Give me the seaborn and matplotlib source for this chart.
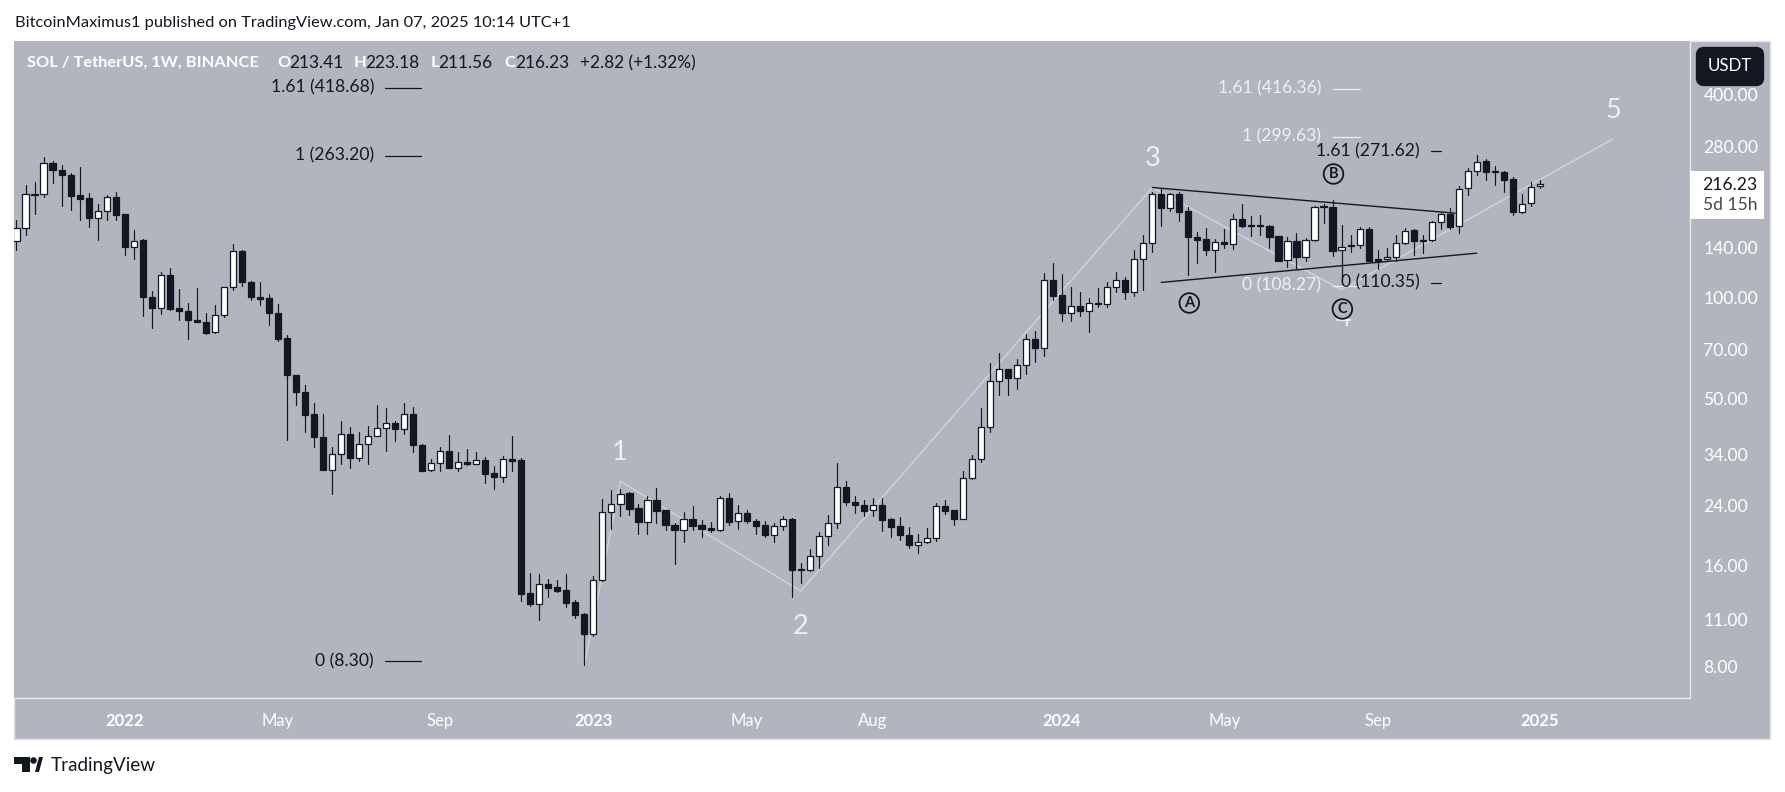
import matplotlib
matplotlib.use("Agg")
import matplotlib.pyplot as plt
from matplotlib.patches import Circle, FancyBboxPatch, Polygon, Rectangle
import pandas as pd
import seaborn as sns

# ── Weekly SOL/USDT candles ───────────────────────────────────────────
opens = [147, 160, 202, 202, 250, 238, 231, 201, 197, 172, 180, 198, 177, 140.5, 148, 100, 93, 116, 92.9, 90.9,
         85.5, 84.6, 78.7, 88.3, 107, 137.2, 111, 100, 99.5, 89.9, 75.6, 58.7, 52.3, 44.9, 38.4, 30.7, 34.2, 39.2, 33.3, 36.7,
         38.7, 40.9, 42.3, 40.6, 45, 36.4, 30.6, 32.2, 34.9, 31.1, 32.4, 32, 32.8, 30.1, 29.3, 33, 32.9, 13.2, 12.3, 14.1,
         13.75, 13.5, 12.45, 11.45, 10, 14.5, 23, 24.3, 26.2, 23.6, 21.5, 24.9, 23.3, 21, 20.3, 21.9, 21, 20.6, 20.3, 25.4,
         21.6, 22.8, 21.7, 21, 19.6, 20.85, 21.9, 15.5, 15.5, 17, 19.5, 21.4, 27.3, 24.7, 24.2, 23.3, 24.2, 21.9, 20.85, 19.7,
         18.3, 18.8, 19.3, 23.9, 23.3, 22, 29, 33, 41.1, 56.4, 61.2, 57.4, 62.9, 75, 70.4, 112.3, 101.4, 89.5, 94.1, 90.7,
         95.7, 95.2, 107.1, 112.3, 103.3, 129.7, 144.7, 202, 183.4, 202, 180.4, 150.7, 148.7, 137.6, 146, 143.6, 170.5, 163.6, 162.9, 162.9,
         151.8, 128.8, 146.7, 131.5, 147.7, 185.5, 185.4, 137.9, 141.7, 142.4, 159.6, 129.7, 129.7, 131.5, 144.7, 158, 147.7, 147.7, 167, 176.8,
         162.5, 210.7, 237.7, 253.3, 236.4, 236, 224, 179.6, 190.1, 213.41]
highs = [169, 215, 220, 260, 254, 247, 233, 243, 204, 189, 201, 205, 177, 158, 149, 104, 119, 122.3, 105.9, 96.2,
         106.6, 90, 94.9, 107, 144, 138, 112, 110.9, 102.3, 95.6, 77.3, 58.9, 55, 48.5, 44.9, 36, 43, 41.2, 39.7, 41.4,
         47.8, 47, 42.8, 48.5, 47.2, 36.7, 33.1, 35.9, 39, 34.8, 35.4, 34.6, 33.6, 31.6, 33.7, 38.8, 33.3, 15.2, 15.1, 14.6,
         14.45, 15.1, 12.6, 11.5, 14.9, 25.1, 26.7, 26.9, 26.3, 24.3, 25.7, 27.2, 23.4, 21.3, 23, 23.9, 21.75, 21.45, 25.6, 26.2,
         24.1, 23.3, 21.9, 21.6, 21.4, 22.35, 22.15, 16.25, 17.9, 20, 22.5, 32.2, 28.4, 25.7, 24.9, 25.3, 25.4, 22.1, 22.25, 20.7,
         19.75, 20.6, 24.5, 24.9, 23.4, 30.4, 34, 46.8, 63.7, 68.2, 61.3, 65.5, 77.9, 79.3, 117.9, 126.2, 117, 107.3, 103.5, 99.3,
         106.4, 110.8, 118.9, 115, 138.2, 153.1, 204.9, 210.7, 204.4, 204.9, 185, 156, 160, 149, 159.5, 176.4, 189.3, 174.4, 175.6, 163.6,
         152, 150.7, 154.9, 149.7, 186, 189.5, 194, 164, 152.5, 162.1, 162, 138.2, 139.8, 153.1, 161, 159.9, 152.5, 168.6, 178.4, 183.8,
         214, 241.5, 264, 256.8, 246, 236.4, 228.2, 202.6, 219.5, 223.18]
lows = [138, 153, 177, 199, 219, 187, 182, 170, 162, 148, 169, 170, 133.6, 130, 88, 81, 89.3, 91.8, 85.7, 75.2,
        84.2, 77.9, 78.5, 87.1, 105.2, 108.3, 98.2, 94.9, 82.4, 73.9, 37.7, 47.9, 39.9, 35.9, 30.7, 26, 31.9, 31, 32.6, 31.9,
        38.6, 34.9, 37.5, 39.3, 34.8, 30.4, 30.4, 30.5, 31, 30.4, 31.7, 31.9, 28, 26.9, 28.2, 30.4, 12.5, 12.1, 11, 12.9,
        13.3, 12, 11.15, 8.07, 9.85, 14.4, 20.5, 22.4, 22.5, 19.8, 19.8, 21.4, 20.4, 16.1, 18.75, 20.3, 19.4, 20, 20.2, 21.1,
        20.5, 21.3, 19.8, 19.4, 18.7, 20.4, 12.9, 14.15, 15.4, 15.7, 18.4, 20.65, 24.1, 22.9, 22.4, 22.35, 20.15, 19.45, 19, 17.95,
        17.4, 18.65, 18.9, 22.7, 21, 21.9, 28.8, 32.3, 39.7, 51.3, 51.3, 53.4, 59.2, 64, 67.1, 97.8, 85.2, 85.2, 87.7, 78.9,
        93.3, 93.3, 103.8, 98.9, 100.5, 105.2, 136.2, 162.9, 180.4, 168.6, 116.5, 126.2, 133.6, 118.9, 140.4, 138.9, 161.4, 152.1, 153, 140.4,
        128.5, 122.5, 121.2, 128.2, 146.4, 166.6, 132.1, 115, 136.6, 139.8, 128.2, 121.2, 128.2, 128.2, 143.7, 133.6, 135.7, 147, 159.6, 159.2,
        155.6, 201.3, 230.8, 223, 215.5, 204.6, 175.6, 177.6, 187, 211.56]
closes = [160, 202, 201, 250, 238, 230, 200, 196, 172, 180, 198, 176, 140.5, 147.3, 99.8, 93, 116, 92.4, 90.7, 85.3,
          84.2, 78.5, 88.5, 107, 137, 110.6, 99.8, 99, 89.5, 75.2, 58.7, 52.1, 44.7, 38.3, 30.7, 34.2, 39.2, 33.3, 36.7, 38.7,
          40.9, 42.3, 40.5, 45, 36.3, 30.5, 32.2, 34.9, 31, 32.4, 31.9, 32.8, 29.9, 29.2, 33, 32.6, 13.1, 12.3, 14.1, 13.7,
          13.4, 12.35, 11.35, 10, 14.5, 23, 24.3, 26.1, 23.5, 21.5, 24.9, 23.2, 21, 20.3, 21.9, 20.95, 20.5, 20.3, 25.4, 21.5,
          22.8, 21.65, 20.95, 19.6, 20.85, 21.9, 15.5, 15.6, 17, 19.5, 21.4, 27.3, 24.6, 24.2, 23.2, 24.2, 21.85, 20.75, 19.6, 18.3,
          18.8, 19.3, 23.9, 23.2, 22, 29, 33, 41.1, 56.5, 61.2, 57.4, 62.9, 75, 70.4, 112.3, 101.1, 89.5, 94.1, 90.7, 96,
          96, 107.1, 112.3, 103.3, 129.7, 144.7, 202, 183.4, 202, 179.6, 150.4, 148.3, 137.6, 145.4, 143.4, 170.5, 163.2, 162.9, 163.4, 151.4,
          128.5, 146.4, 131.2, 147.7, 185, 186.5, 137.2, 141.4, 142.4, 159.2, 128.5, 128.5, 131.2, 144.7, 157.7, 146.4, 146.4, 167, 176.4, 162.1,
          210.2, 237.7, 252.7, 236, 235.3, 223.5, 179.2, 189.7, 213.1, 216.23]

# ── Drawings ──────────────────────────────────────────────────────────
wave_weeks = [63, 67, 87, 126, 147, 177]
wave_prices = [8.07, 28.4, 13.4, 211.7, 105.2, 294]
upper_weeks = [126, 159.6]
upper_prices = [211.7, 177.6]
lower_weeks = [127, 162]
lower_prices = [110.6, 135.1]

# label, price, first week, last week, colour
fib_levels = [
    ("1.61 (418.68)", 418.68, 40.9, 44.9, "black"),
    ("1 (263.20)", 263.20, 40.9, 44.9, "black"),
    ("0 (8.30)", 8.30, 40.9, 44.9, "black"),
    ("1.61 (416.36)", 416.36, 146.0, 149.0, "white"),
    ("1 (299.63)", 299.63, 146.0, 149.0, "white"),
    ("0 (108.27)", 108.27, 146.0, 149.0, "white"),
    ("1.61 (271.62)", 271.62, 156.9, 158.0, "black"),
    ("0 (110.35)", 110.35, 156.9, 158.0, "black"),
]
wave_labels = ["1", "2", "3", "4", "5"]
abc_labels = ["A", "B", "C"]

price_ticks = [8, 11, 16, 24, 34, 50, 70, 100, 140, 280, 400]
week_ticks = [12, 29, 47, 64, 81, 95, 116, 134, 151, 169]
week_labels = ["2022", "May", "Sep", "2023", "May", "Aug", "2024", "May", "Sep", "2025"]

W, H = 1785, 792
PANE = "#B2B5BE"
DARK = "#131722"
WHITE_LINE = "#D1D4DC"
FONT = "Lato"


def fx(x, y):
    return x / W, 1 - y / H


sns.set_style("white")
plt.rcParams["font.family"] = [FONT, "DejaVu Sans"]

df = pd.DataFrame({"week": range(len(opens)), "open": opens, "high": highs, "low": lows, "close": closes})
df["up"] = df["close"] >= df["open"]
df["top"] = df[["open", "close"]].max(axis=1)
df["bot"] = df[["open", "close"]].min(axis=1)
wicks = df.melt(id_vars="week", value_vars=["high", "low"], value_name="price")

fig = plt.figure(figsize=(W / 100, H / 100), dpi=100, facecolor="white")
fig.add_artist(Rectangle(fx(14, 739), (1770 - 14) / W, (739 - 41) / H, transform=fig.transFigure,
                         facecolor=PANE, edgecolor="#E0E3EB", lw=1, zorder=-1))
ax = fig.add_axes([14 / W, 1 - 697.5 / H, (1689.5 - 14) / W, (697.5 - 41) / H], facecolor=PANE)
ax.set_yscale("log")

# wave count and pattern lines sit under the candles
sns.lineplot(x=wave_weeks, y=wave_prices, color=WHITE_LINE, lw=1.0, sort=False, estimator=None, ax=ax, zorder=1)
sns.lineplot(x=upper_weeks, y=upper_prices, color=DARK, lw=1.0, estimator=None, ax=ax, zorder=4)
sns.lineplot(x=lower_weeks, y=lower_prices, color=DARK, lw=1.0, estimator=None, ax=ax, zorder=4)

sns.lineplot(data=wicks, x="week", y="price", units="week", estimator=None, color=DARK, lw=0.85, ax=ax, zorder=2)
up, down = df[df["up"]], df[~df["up"]]
ax.bar(up["week"], up["top"] - up["bot"], bottom=up["bot"], width=0.68, color="white", edgecolor=DARK, lw=0.9, zorder=3)
ax.bar(down["week"], down["top"] - down["bot"], bottom=down["bot"], width=0.68, color=DARK, edgecolor=DARK, lw=0.9, zorder=3)

for label, price, w0, w1, col in fib_levels:
    c = DARK if col == "black" else "#EEF0F3"
    sns.lineplot(x=[w0, w1], y=[price, price], color=c, lw=0.9, estimator=None, ax=ax, zorder=5)
    ax.annotate(label, (w0, price), xytext=(-8, 0), textcoords="offset points", ha="right", va="center",
                fontsize=12.6, color=c, zorder=6)

ax.set_xlim(-0.277, 185.6)
ax.set_ylim(6.47, 576.6)
ax.set_xlabel("")
ax.set_ylabel("")
ax.minorticks_off()
ax.yaxis.tick_right()
ax.set_yticks(price_ticks)
ax.set_yticklabels([f"{p:.2f}" for p in price_ticks], fontsize=12.6, color="white")
ax.set_xticks(week_ticks)
ax.set_xticklabels(week_labels, fontsize=12, color="white")
for t in ax.get_xticklabels():
    if t.get_text().isdigit():
        t.set_fontweight("bold")
ax.tick_params(axis="both", which="both", length=0)
ax.tick_params(axis="y", pad=10)
ax.tick_params(axis="x", pad=11)
for side in ["top", "left"]:
    ax.spines[side].set_visible(False)
for side in ["bottom", "right"]:
    ax.spines[side].set_color("#E8EAEE")
    ax.spines[side].set_linewidth(1.0)
    ax.spines[side].set_zorder(7)

# wave numbers
for label, (x, y) in zip(wave_labels, [(620, 452), (801, 626), (1153, 159), (1343.6, 318), (1613.7, 111)]):
    fx_x, fx_y = fx(x, y)
    fig.text(fx_x, fx_y, label, color="#EEF0F3", fontsize=19.5, ha="center", va="center", zorder=3)

# circled ABC, filled so the 4 slips behind the C as on the chart
for label, (x, y) in zip(abc_labels, [(1189.3, 303), (1333.5, 174), (1342.4, 309)]):
    fig.add_artist(Circle((x, H - y), 9.8, transform=None, facecolor=PANE, edgecolor=DARK, lw=1.3, zorder=5))
    fx_x, fx_y = fx(x, y)
    fig.text(fx_x, fx_y, label, color=DARK, fontsize=10.5, fontweight="bold", ha="center", va="center", zorder=5)

# publisher line and legend
fig.text(*fx(15, 23), "BitcoinMaximus1 published on TradingView.com, Jan 07, 2025 10:14 UTC+1",
         fontsize=11.8, color=DARK, va="center")
legend_bits = [(26.5, "SOL / TetherUS, 1W, BINANCE", "white"), (277, "O", "white"), (289, "213.41", DARK),
               (353.5, "H", "white"), (365, "223.18", DARK), (431, "L", "white"), (438, "211.56", DARK),
               (504, "C", "white"), (515, "216.23", DARK), (580, "+2.82 (+1.32%)", DARK)]
for x, txt, c in legend_bits:
    fig.text(*fx(x, 63), txt, fontsize=11.8 if c == "white" else 12.4, color=c,
             fontweight="bold" if c == "white" else "normal", va="center", zorder=3)

# axis badges
fig.add_artist(FancyBboxPatch((1700, H - 82), 60, 31, boxstyle="round,pad=0,rounding_size=4", transform=None,
                              facecolor=DARK, edgecolor=DARK, lw=6, zorder=5))
fig.text(*fx(1730, 66), "USDT", color="white", fontsize=12.2, ha="center", va="center", zorder=6)
fig.add_artist(Rectangle(fx(1689.5, 219), (1763.5 - 1689.5) / W, 48 / H, transform=fig.transFigure,
                         facecolor="white", edgecolor="none", zorder=5))
fig.text(*fx(1730, 185), "216.23", color=DARK, fontsize=12.6, ha="center", va="center", zorder=6)
fig.text(*fx(1730, 205), "5d 15h", color="#434651", fontsize=12.6, ha="center", va="center", zorder=6)

# TradingView logo
for pts in [[(14, 757), (30, 757), (30, 772), (22, 772), (22, 764), (14, 764)],
            [(35, 772), (39, 757), (43, 757), (39, 772)]]:
    fig.add_artist(Polygon([fx(*p) for p in pts], closed=True, transform=fig.transFigure, facecolor=DARK, edgecolor="none"))
fig.add_artist(Circle((33.5, H - 760.5), 3.3, transform=None, facecolor=DARK, edgecolor="none"))
fig.text(*fx(50.5, 766), "TradingView", fontsize=13.6, color=DARK, va="center")

fig.savefig("out.png", dpi=100)
